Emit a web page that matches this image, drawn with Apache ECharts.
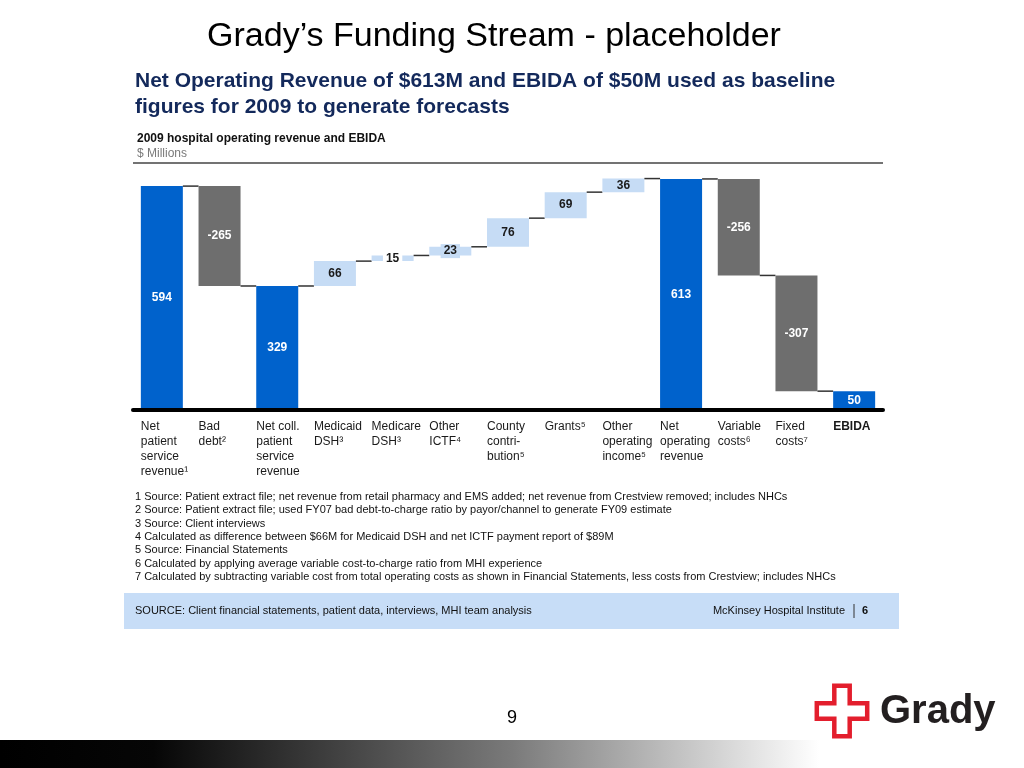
<!DOCTYPE html>
<html><head><meta charset="utf-8">
<script src="https://cdn.jsdelivr.net/npm/echarts@6/dist/echarts.min.js"></script>
<style>html,body{margin:0;padding:0;background:#fff}#c{width:1024px;height:768px}</style>
</head><body><div id="c"></div>
<script>
const categories = ['Net\npatient\nservice\nrevenue¹','Bad\ndebt²','Net coll.\npatient\nservice\nrevenue','Medicaid\nDSH³','Medicare\nDSH³','Other\nICTF⁴','County\ncontri-\nbution⁵','Grants⁵','Other\noperating\nincome⁵','Net\noperating\nrevenue','Variable\ncosts⁶','Fixed\ncosts⁷','EBIDA'];
const values = [594, -265, 329, 66, 15, 23, 76, 69, 36, 613, -256, -307, 50];
const kinds = ['total','decrease','total','increase','increase','increase','increase','increase','increase','total','decrease','decrease','total'];
const footnotes = [
 '1 Source: Patient extract file; net revenue from retail pharmacy and EMS added; net revenue from Crestview removed; includes NHCs',
 '2 Source: Patient extract file; used FY07 bad debt-to-charge ratio by payor/channel to generate FY09 estimate',
 '3 Source: Client interviews',
 '4 Calculated as difference between $66M for Medicaid DSH and net ICTF payment report of $89M',
 '5 Source: Financial Statements',
 '6 Calculated by applying average variable cost-to-charge ratio from MHI experience',
 '7 Calculated by subtracting variable cost from total operating costs as shown in Financial Statements, less costs from Crestview; includes NHCs'
];
const pageTitle = 'Grady’s Funding Stream - placeholder';
const headline = 'Net Operating Revenue of $613M and EBIDA of $50M used as baseline\nfigures for 2009 to generate forecasts';
const chartTitle = '2009 hospital operating revenue and EBIDA';
const unitText = '$ Millions';
const sourceText = 'SOURCE: Client financial statements, patient data, interviews, MHI team analysis';
const brandText = 'McKinsey Hospital Institute';
const brandPage = '6';
const slideNumber = '9';
const logoText = 'Grady';

const FONT = '"Liberation Sans", Arial, Helvetica, sans-serif';
const C_TOTAL = '#0062CC', C_DEC = '#6E6E6E', C_INC = '#C6DCF5';

let running = 0;
const segs = values.map((v, i) => {
  let lo, hi, end;
  if (kinds[i] === 'total') { lo = 0; hi = v; end = v; }
  else { const s = running, e = running + v; lo = Math.min(s, e); hi = Math.max(s, e); end = e; }
  running = end;
  return [i, lo, hi, end, v];
});

function renderItem(params, api) {
  const i = api.value(0), lo = api.value(1), hi = api.value(2), end = api.value(3), v = api.value(4);
  const w = api.size([1, 0])[0];
  const bw = w * 0.728;
  const pTop = api.coord([i, hi]), pBot = api.coord([i, lo]);
  const x = pTop[0] - bw / 2;
  const kind = kinds[i];
  const fill = kind === 'total' ? C_TOTAL : (kind === 'decrease' ? C_DEC : C_INC);
  const txtColor = kind === 'increase' ? '#1A1A1A' : '#FFFFFF';
  const h = pBot[1] - pTop[1];
  const children = [{ type: 'rect', shape: { x: x, y: pTop[1], width: bw, height: h }, style: { fill: fill } }];
  const small = h < 12;
  children.push({ type: 'text', x: pTop[0], y: (pTop[1] + pBot[1]) / 2, z2: 5,
    style: { text: String(v), fill: txtColor, font: 'bold 12px ' + FONT, align: 'center', verticalAlign: 'middle',
      backgroundColor: small ? (h < 7 ? '#FFFFFF' : fill) : 'transparent', padding: small ? [1, 3] : 0 } });
  if (i < values.length - 1) {
    const pe = api.coord([i, end]), pn = api.coord([i + 1, end]);
    children.push({ type: 'line', shape: { x1: x + bw, y1: pe[1], x2: pn[0] - bw / 2, y2: pe[1] },
      style: { stroke: '#333', lineWidth: 1.5 } });
  }
  const base = api.coord([i, 0]);
  children.push({ type: 'text', x: x, y: base[1] + 9.5,
    style: { text: categories[i], fill: '#1A1A1A', font: (i === categories.length - 1 ? 'bold ' : '') + '12px ' + FONT,
      align: 'left', verticalAlign: 'top', lineHeight: 15 } });
  return { type: 'group', children: children };
}

const cx = 842, cy = 711, H = 25.2, a = 7.7;
const crossPts = [[cx-a,cy-H],[cx+a,cy-H],[cx+a,cy-a],[cx+H,cy-a],[cx+H,cy+a],[cx+a,cy+a],[cx+a,cy+H],[cx-a,cy+H],[cx-a,cy+a],[cx-H,cy+a],[cx-H,cy-a],[cx-a,cy-a]];

const chart = echarts.init(document.getElementById('c'), null, { renderer: 'canvas' });
chart.setOption({
  animation: false,
  backgroundColor: '#FFFFFF',
  grid: { left: 133, right: 141, top: 165, bottom: 358 },
  xAxis: { type: 'category', data: categories, z: 10,
    axisLine: { lineStyle: { color: '#000', width: 4 } }, axisTick: { show: false }, axisLabel: { show: false } },
  yAxis: { type: 'value', min: 0, max: 650, show: false, splitLine: { show: false } },
  series: [{ type: 'custom', renderItem: renderItem, data: segs, clip: false, encode: { x: 0, y: [1, 2] } }],
  graphic: [
    { type: 'text', x: 494, y: 37, style: { text: pageTitle, font: '34px ' + FONT, fill: '#000', align: 'center', verticalAlign: 'middle' } },
    { type: 'text', x: 135, y: 68, style: { text: headline, font: 'bold 21px ' + FONT, fill: '#13295B', lineHeight: 26, align: 'left', verticalAlign: 'top' } },
    { type: 'text', x: 137, y: 139, style: { text: chartTitle, font: 'bold 12px ' + FONT, fill: '#111', align: 'left', verticalAlign: 'middle' } },
    { type: 'text', x: 137, y: 154, style: { text: unitText, font: '12px ' + FONT, fill: '#7A7A7A', align: 'left', verticalAlign: 'middle' } },
    { type: 'line', shape: { x1: 133, y1: 163, x2: 883, y2: 163 }, style: { stroke: '#444', lineWidth: 1.5 } },
    { type: 'text', x: 135, y: 490.5, style: { text: footnotes.join('\n'), font: '11px ' + FONT, fill: '#111', lineHeight: 13.3, align: 'left', verticalAlign: 'top' } },
    { type: 'rect', shape: { x: 124, y: 593, width: 775, height: 36 }, style: { fill: '#C7DDF7' } },
    { type: 'text', x: 135, y: 611, style: { text: sourceText, font: '11px ' + FONT, fill: '#111', align: 'left', verticalAlign: 'middle' } },
    { type: 'text', x: 845, y: 611, style: { text: brandText, font: '11px ' + FONT, fill: '#111', align: 'right', verticalAlign: 'middle' } },
    { type: 'line', shape: { x1: 854, y1: 604, x2: 854, y2: 618 }, style: { stroke: '#333', lineWidth: 1 } },
    { type: 'text', x: 865, y: 611, style: { text: brandPage, font: 'bold 11px ' + FONT, fill: '#111', align: 'center', verticalAlign: 'middle' } },
    { type: 'text', x: 512, y: 718, style: { text: slideNumber, font: '18px ' + FONT, fill: '#000', align: 'center', verticalAlign: 'middle' } },
    { type: 'polygon', shape: { points: crossPts }, style: { fill: 'none', stroke: '#E31E2D', lineWidth: 4.5 } },
    { type: 'text', x: 880, y: 712, style: { text: logoText, font: 'bold 40px ' + FONT, fill: '#231F20', align: 'left', verticalAlign: 'middle' } },
    { type: 'rect', shape: { x: 0, y: 740, width: 1024, height: 28 },
      style: { fill: new echarts.graphic.LinearGradient(0, 0, 1, 0, [
        { offset: 0, color: '#000' }, { offset: 0.15, color: '#060606' }, { offset: 0.5, color: '#7A7A7A' }, { offset: 0.8, color: '#FFFFFF' }, { offset: 1, color: '#FFFFFF' }]) } }
  ]
});
</script></body></html>
